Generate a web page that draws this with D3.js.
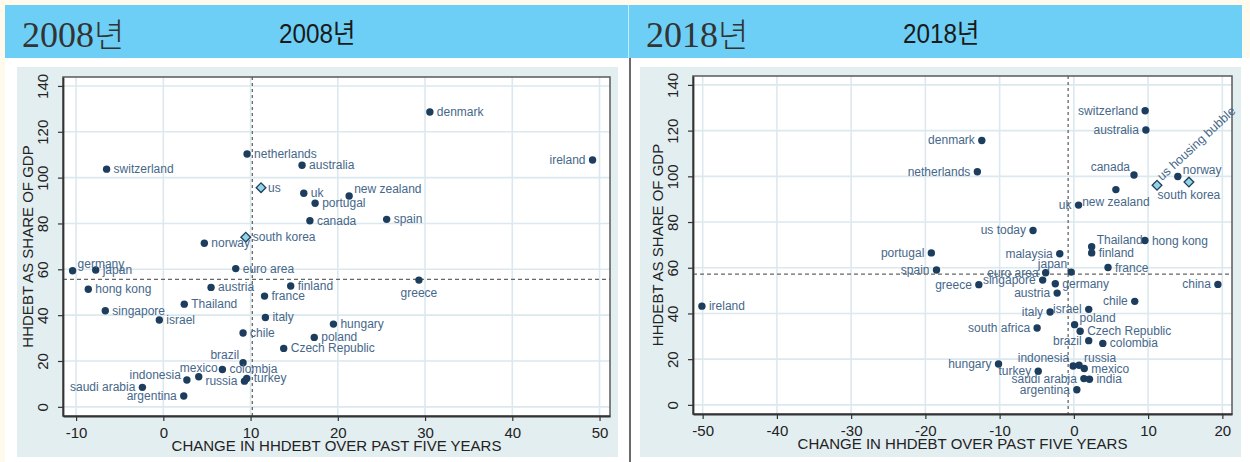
<!DOCTYPE html>
<html lang="ko">
<head>
<meta charset="utf-8">
<title>HHDEBT 2008 / 2018</title>
<script src="https://d3js.org/d3.v7.min.js"></script>
<style>
  body { margin: 0; background: #fffaeb; }
  svg { display: block; }
</style>
</head>
<body>
<div id="chart"></div>
<script>
// ---- 2008 data: change in hh debt over 5 yrs (x), hh debt as share of GDP (y)
const names2008 = ["switzerland", "netherlands", "us", "australia", "uk", "portugal", "canada",
  "south korea", "norway", "denmark", "ireland", "new zealand", "spain", "germany", "japan",
  "hong kong", "singapore", "israel", "euro area", "austria", "Thailand", "france", "finland",
  "italy", "chile", "Czech Republic", "brazil", "colombia", "mexico", "indonesia", "russia",
  "turkey", "saudi arabia", "argentina", "greece", "hungary", "poland"];
const change2008 = [-6.5, 9.6, 11.2, 15.9, 16.1, 17.4, 16.8,
  9.45, 4.7, 30.55, 49.2, 21.3, 25.6, -10.4, -7.75,
  -8.6, -6.65, -0.46, 8.3, 5.47, 2.4, 11.6, 14.6,
  11.7, 9.14, 13.8, 9.14, 6.77, 4.06, 2.7, 9.3,
  9.56, -2.4, 2.34, 29.3, 19.5, 17.3];
const share2008 = [103.7, 110.3, 95.6, 105.4, 93.2, 88.8, 81.2,
  74, 71.4, 128.6, 107.7, 92, 81.8, 59.4, 59.7,
  51.3, 41.9, 37.9, 60.3, 52.1, 44.8, 48.3, 52.7,
  39, 32.2, 25.5, 19.2, 16.3, 13.1, 11.7, 11.2,
  12.4, 8.5, 4.7, 55.3, 36.1, 30.3];
const diamonds2008 = ["us", "south korea"];
const refX2008 = 10.2, refY2008 = 55.6;
const xTicks2008 = [-10, 0, 10, 20, 30, 40, 50];

// ---- 2018 data
const names2018 = ["switzerland", "australia", "denmark", "netherlands", "canada", "norway",
  "south korea", "us housing bubble", "new zealand", "uk", "us today", "hong kong", "Thailand",
  "finland", "malaysia", "portugal", "spain", "ireland", "greece", "singapore", "euro area",
  "japan", "france", "germany", "austria", "china", "chile", "italy", "israel", "poland",
  "Czech Republic", "south africa", "brazil", "colombia", "hungary", "turkey", "indonesia",
  "russia", "mexico", "saudi arabia", "india", "argentina"];
const change2018 = [9.6, 9.7, -12.4, -13, 8.1, 14,
  15.5, 11.2, 5.66, 0.63, -5.5, 9.57, 2.4,
  2.4, -1.9, -19.2, -18.5, -50.1, -12.8, -4.2, -3.8,
  -0.36, 4.6, -2.5, -2.25, 19.4, 8.2, -3.2, 2, 0.1,
  0.85, -4.95, 2, 3.9, -10.15, -4.8, -0.1,
  0.7, 1.4, 1.35, 2.1, 0.4];
const share2018 = [128.7, 120.3, 115.7, 102, 100.6, 99.9,
  97.5, 96.1, 94.2, 87.4, 76.3, 71.9, 69.2,
  66.5, 66.1, 66.5, 59, 43.2, 52.6, 54.6, 57.8,
  58.1, 60.1, 53, 48.9, 52.7, 45.3, 40.6, 41.8, 35.1,
  32.2, 33.6, 28.1, 26.9, 17.9, 14.7, 17,
  17.3, 15.9, 11.5, 11.2, 6.6];
const diamonds2018 = ["south korea", "us housing bubble"];
const refX2018 = -0.77, refY2018 = 57.2;
const xTicks2018 = [-50, -40, -30, -20, -10, 0, 10, 20];

const yTicks = [0, 20, 40, 60, 80, 100, 120, 140];

// label placement, stata style clock positions
const pos2008 = { "ireland": 9, "germany": 1, "brazil": 11, "mexico": 12, "indonesia": 10,
  "russia": 9, "saudi arabia": 9, "argentina": 9, "greece": 6, "new zealand": 1 };
const pos2018 = { "canada": 11, "norway": 1, "south korea": 6, "new zealand": 6, "Thailand": 1,
  "hong kong": 3, "finland": 3, "ireland": 3, "japan": 11, "france": 3, "germany": 3,
  "poland": 1, "Czech Republic": 3, "colombia": 3, "indonesia": 11, "russia": 1, "mexico": 3,
  "india": 3, "us housing bubble": "diag" };

const W = 1250, H = 462;
const sans = "'Liberation Sans', Arial, 'Noto Sans CJK KR', sans-serif";
const dotColor = "#1d3d5f", labelColor = "#46678a";

const svg = d3.select("#chart").append("svg")
  .attr("width", W).attr("height", H);

// page background + header band
svg.append("rect").attr("x", 5).attr("y", 58).attr("width", W - 5).attr("height", H - 58).attr("fill", "#fff");
svg.append("rect").attr("x", 5).attr("y", 5).attr("width", 1237).attr("height", 53).attr("fill", "#6dcff6");
svg.append("line").attr("x1", 628.5).attr("x2", 628.5).attr("y1", 5).attr("y2", 58)
  .attr("stroke", "#c4ecfa").attr("stroke-width", 1);
svg.append("line").attr("x1", 630).attr("x2", 630).attr("y1", 58).attr("y2", H)
  .attr("stroke", "#6b6b6b").attr("stroke-width", 2);

function header(x0, x1, txt) {
  const t = svg.append("text").attr("x", x0).attr("y", 47)
    .attr("font-family", "'Liberation Serif', 'Times New Roman', 'Noto Sans CJK KR', serif")
    .attr("font-size", 36).attr("fill", "#333");
  t.append("tspan").text(txt.slice(0, -1));
  t.append("tspan").attr("font-weight", 300).attr("font-size", 33).text(txt.slice(-1));
  svg.append("text").attr("transform", `translate(${x1},43) scale(0.9,1)`)
    .attr("font-family", sans).attr("font-size", 27).attr("fill", "#1a1a1a").text(txt);
}
header(22, 279, "2008년");
header(646, 903, "2018년");

function labelOffset(p) {
  switch (p) {
    case 9: return { dx: -7, dy: 4, anchor: "end" };
    case 1: return { dx: 5, dy: -3, anchor: "start" };
    case 11: return { dx: -4, dy: -4, anchor: "end" };
    case 12: return { dx: 0, dy: -5, anchor: "middle" };
    case 10: return { dx: -6, dy: -1.5, anchor: "end" };
    case 6: return { dx: 0, dy: 16.5, anchor: "middle" };
    default: return { dx: 7, dy: 4, anchor: "start" };
  }
}

function drawPanel(cfg) {
  const g = svg.append("g");
  const p = cfg.plot;

  g.append("rect").attr("x", cfg.box[0]).attr("y", cfg.box[1])
    .attr("width", cfg.box[2] - cfg.box[0]).attr("height", cfg.box[3] - cfg.box[1])
    .attr("fill", "#e3eef1");
  g.append("rect").attr("x", p.x0).attr("y", p.y0)
    .attr("width", p.x1 - p.x0).attr("height", p.y1 - p.y0).attr("fill", "#fff");

  const x = d3.scaleLinear().domain(cfg.xDomain).range([p.x0, p.x1]);
  const y = d3.scaleLinear().domain([-4, 143.9]).range([p.y1, p.y0]);

  // grid
  g.append("g").selectAll("line").data(cfg.xTicks).join("line")
    .attr("x1", d => x(d)).attr("x2", d => x(d)).attr("y1", p.y0).attr("y2", p.y1)
    .attr("stroke", "#dbe9ee").attr("stroke-width", 1.6);
  g.append("g").selectAll("line").data(yTicks).join("line")
    .attr("y1", d => y(d)).attr("y2", d => y(d)).attr("x1", p.x0).attr("x2", p.x1)
    .attr("stroke", "#dbe9ee").attr("stroke-width", 1.6);

  // reference lines
  g.append("line").attr("x1", x(cfg.refX)).attr("x2", x(cfg.refX)).attr("y1", p.y0).attr("y2", p.y1)
    .attr("stroke", "#666").attr("stroke-width", 1.3).attr("stroke-dasharray", "3,3");
  g.append("line").attr("y1", y(cfg.refY)).attr("y2", y(cfg.refY)).attr("x1", p.x0).attr("x2", p.x1)
    .attr("stroke", "#666").attr("stroke-width", 1.3).attr("stroke-dasharray", "4,3");

  // frame
  g.append("rect").attr("x", p.x0).attr("y", p.y0)
    .attr("width", p.x1 - p.x0).attr("height", p.y1 - p.y0)
    .attr("fill", "none").attr("stroke", "#5a5a5a").attr("stroke-width", 1.5);

  // axes (plain hyphen minus like the original)
  const xAxis = g.append("g").attr("transform", `translate(0,${p.y1})`)
    .call(d3.axisBottom(x).tickValues(cfg.xTicks).tickFormat(d => String(d))
      .tickSize(5).tickSizeOuter(0).tickPadding(6));
  const yAxis = g.append("g").attr("transform", `translate(${p.x0},0)`)
    .call(d3.axisLeft(y).tickValues(yTicks).tickFormat(d => String(d)).tickSize(5).tickSizeOuter(0));
  [xAxis, yAxis].forEach(a => {
    a.select(".domain").attr("stroke", "#333").attr("stroke-width", 1.8);
    a.selectAll(".tick line").attr("stroke", "#333").attr("stroke-width", 1.2);
    a.selectAll(".tick text").attr("font-family", sans).attr("font-size", 15).attr("fill", "#222");
  });
  yAxis.selectAll(".tick text")
    .attr("x", null).attr("dy", null)
    .attr("transform", "translate(-15,0) rotate(-90)")
    .attr("text-anchor", "middle");

  // axis titles
  g.append("text").attr("x", (p.x0 + p.x1) / 2).attr("y", p.y1 + 35)
    .attr("text-anchor", "middle").attr("font-family", sans).attr("font-size", 15).attr("fill", "#222")
    .text("CHANGE IN HHDEBT OVER PAST FIVE YEARS");
  g.append("text").attr("transform", `translate(${p.x0 - 30},${(p.y0 + p.y1) / 2}) rotate(-90)`)
    .attr("text-anchor", "middle").attr("font-family", sans).attr("font-size", 15).attr("fill", "#222")
    .text("HHDEBT AS SHARE OF GDP");

  // points
  const pts = cfg.names.map((n, i) => ({ name: n, x: cfg.xs[i], y: cfg.ys[i] }));
  const dots = g.append("g");
  dots.selectAll("circle").data(pts.filter(d => !cfg.diamonds.includes(d.name))).join("circle")
    .attr("cx", d => x(d.x)).attr("cy", d => y(d.y)).attr("r", 3.7).attr("fill", dotColor);
  dots.selectAll("path").data(pts.filter(d => cfg.diamonds.includes(d.name))).join("path")
    .attr("d", d3.symbol(d3.symbolDiamond2, 60))
    .attr("transform", d => `translate(${x(d.x)},${y(d.y)})`)
    .attr("fill", "#93d3e2").attr("stroke", dotColor).attr("stroke-width", 1.3);

  // labels
  g.append("g").selectAll("text").data(pts).join("text")
    .each(function (d) {
      const pos = cfg.labelPos[d.name] !== undefined ? cfg.labelPos[d.name] : cfg.defaultPos;
      const t = d3.select(this);
      if (pos === "diag") {
        t.attr("transform", `translate(${x(d.x) + 5},${y(d.y) - 4}) rotate(-43)`)
          .attr("font-size", 12.5);
        return;
      }
      const o = labelOffset(pos);
      t.attr("x", x(d.x) + o.dx).attr("y", y(d.y) + o.dy).attr("text-anchor", o.anchor)
        .attr("font-size", 12);
    })
    .attr("font-family", sans).attr("fill", labelColor)
    .text(d => d.name);
}

drawPanel({
  names: names2008, xs: change2008, ys: share2008, diamonds: diamonds2008,
  refX: refX2008, refY: refY2008, xTicks: xTicks2008,
  box: [17, 67, 618, 457], plot: { x0: 63, y0: 77, x1: 610, y1: 416 },
  xDomain: [-11.5, 51.2], labelPos: pos2008, defaultPos: 3
});
drawPanel({
  names: names2018, xs: change2018, ys: share2018, diamonds: diamonds2018,
  refX: refX2018, refY: refY2018, xTicks: xTicks2018,
  box: [640, 67, 1241, 457], plot: { x0: 693, y0: 76, x1: 1232, y1: 414 },
  xDomain: [-51.3, 21.3], labelPos: pos2018, defaultPos: 9
});
</script>
</body>
</html>
